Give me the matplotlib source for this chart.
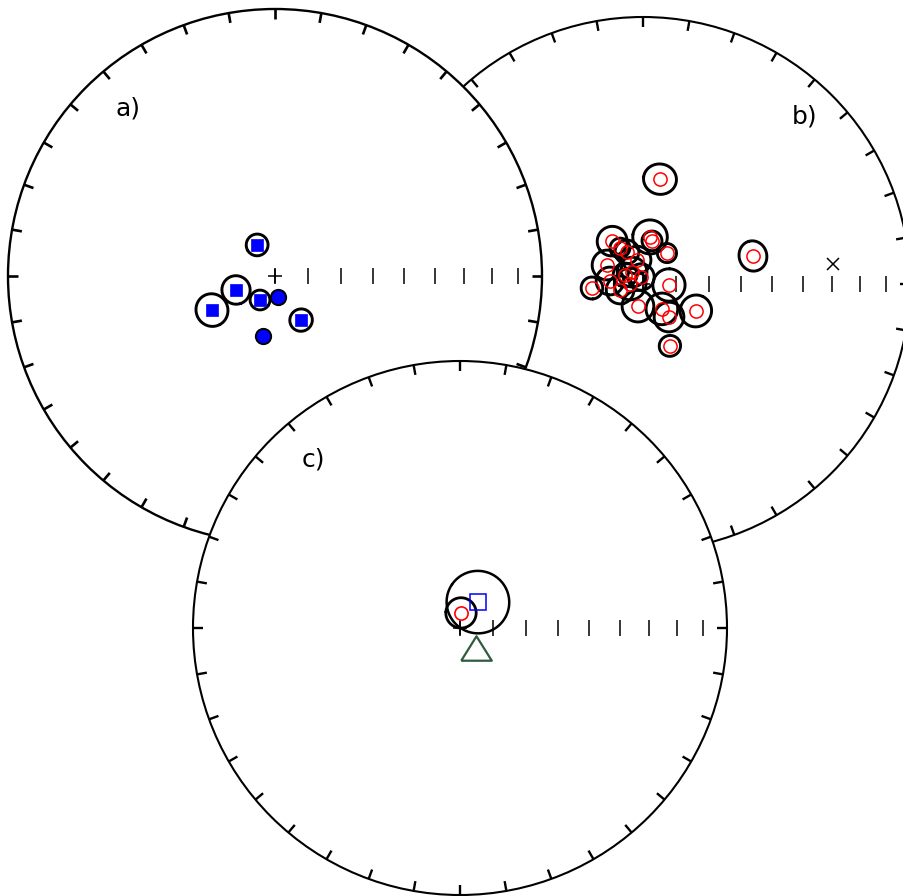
import numpy as np
import matplotlib.pyplot as plt
from matplotlib.patches import Circle

# ---- data (declination, inclination, alpha95 in degrees) ----
# a) site means (squares, with a95) and single directions (dots)
a_sq_dec = [330.1, 250.3, 241.6, 212.0, 149.4]
a_sq_inc = [79.1, 77.4, 68.1, 81.4, 74.4]
a_sq_a95 = [3.3, 4.3, 4.9, 3.0, 3.4]
a_dot_dec = [171.9, 191.3]
a_dot_inc = [83.6, 71.3]

# b) site directions with a95, plus a reference direction
b_dec = [9.2, 75.7, 156.5, 117.0, 265.5, 92.2, 192.8, 142.8, 141.8, 324.2, 8.5, 11.8,
         37.7, 297.8, 333.4, 346.0, 317.5, 344.0, 275.2, 255.4, 270.0, 296.6, 327.4]
b_inc = [57.3, 55.0, 69.4, 71.9, 74.4, 82.1, 83.1, 80.5, 77.2, 73.9, 75.5, 76.6,
         78.1, 77.6, 79.1, 82.5, 85.1, 87.8, 79.9, 82.8, 86.1, 83.9, 77.0]
b_a95 = [4.8, 4.4, 3.2, 4.8, 3.3, 4.9, 4.8, 4.8, 4.5, 4.5, 5.2, 3.0,
         2.9, 4.5, 3.6, 4.2, 4.5, 4.0, 4.2, 4.2, 4.8, 3.6, 3.0]
b_ref_dec, b_ref_inc = [84.0], [29.2]

# c) overall mean, one site, and expected direction
c_mean_dec, c_mean_inc, c_mean_a95 = [34.7], [80.4], [9.5]
c_site_dec, c_site_inc, c_site_a95 = [3.8], [85.4], [4.6]
c_exp_dec, c_exp_inc = [141.3], [82.2]

R = 267.0


def dimap(cx, cy, dec, inc):
    """equal-area (Lambert) projection, north up, image coords (y down)"""
    dec = np.radians(np.asarray(dec, float))
    inc = np.radians(np.abs(np.asarray(inc, float)))
    r = R * np.sqrt(2) * np.sin((np.pi / 2 - inc) / 2)
    return cx + r * np.sin(dec), cy - r * np.cos(dec)


def small_circle(dec, inc, a95, n=120):
    d, i, a = np.radians([dec, inc, a95])
    v = np.array([np.cos(i) * np.cos(d), np.cos(i) * np.sin(d), np.sin(i)])
    p = np.cross(v, [0, 0, 1.0])
    if np.linalg.norm(p) < 1e-9:
        p = np.array([1.0, 0, 0])
    p /= np.linalg.norm(p)
    q = np.cross(v, p)
    t = np.linspace(0, 2 * np.pi, n)
    pts = (np.cos(a) * v[:, None] + np.sin(a) * (np.outer(p, np.cos(t)) + np.outer(q, np.sin(t))))
    decs = np.degrees(np.arctan2(pts[1], pts[0]))
    incs = np.degrees(np.arcsin(np.clip(pts[2], -1, 1)))
    return decs, incs


def plot_net(ax, cx, cy, z, lw=1.5):
    ax.add_patch(Circle((cx, cy), R, facecolor='white', edgecolor='black', lw=lw, zorder=z))
    for D in range(0, 360, 10):
        x, y = dimap(cx, cy, [D, D], [0, 4.2])
        ax.plot(x, y, color='black', lw=lw + 0.2, zorder=z + 0.1, solid_capstyle='butt')
    x, y = dimap(cx, cy, [90] * 9, np.arange(10, 100, 10))
    ax.plot(x, y, ls='none', marker='|', ms=12, mew=1.1, color='black', zorder=z + 0.1)
    ax.plot(cx, cy, ls='none', marker='+', ms=10, mew=1.1, color='black', zorder=z + 0.1)


def plot_a95(ax, cx, cy, dec, inc, a95, z, lw=2.0):
    for d, i, a in zip(dec, inc, a95):
        sd, si = small_circle(d, i, a)
        x, y = dimap(cx, cy, sd, si)
        ax.plot(x, y, color='black', lw=lw, zorder=z,
                solid_capstyle='round', solid_joinstyle='round')


fig = plt.figure(figsize=(9.04, 8.96), dpi=100)
ax = fig.add_axes([0, 0, 1, 1])
ax.set_xlim(0, 904)
ax.set_ylim(896, 0)
ax.set_aspect('equal')
ax.axis('off')

nets = {'a': (275, 276, 10), 'b': (643, 284, 1), 'c': (460, 628, 20)}

# ---- b) ----
cx, cy, z = nets['b']
plot_net(ax, cx, cy, z)
plot_a95(ax, cx, cy, b_dec, b_inc, b_a95, z + 0.3, lw=2.1)
x, y = dimap(cx, cy, b_dec, b_inc)
ax.plot(x, y, ls='none', marker='o', ms=9.5, mfc='none', mec='red', mew=1.1, zorder=z + 0.4)
x, y = dimap(cx, cy, b_ref_dec, b_ref_inc)
ax.plot(x, y, ls='none', marker='x', ms=9, mew=1.1, color='black', zorder=z + 0.4)
ax.text(805, 116, 'b)', fontsize=18, ha='center', va='center', zorder=z + 0.5)

# ---- a) ----
cx, cy, z = nets['a']
plot_net(ax, cx, cy, z, lw=1.7)
plot_a95(ax, cx, cy, a_sq_dec, a_sq_inc, a_sq_a95, z + 0.3, lw=2.1)
x, y = dimap(cx, cy, a_sq_dec, a_sq_inc)
ax.plot(x, y, ls='none', marker='s', ms=9.3, mfc='blue', mec='blue', mew=0.5, zorder=z + 0.4)
x, y = dimap(cx, cy, a_dot_dec, a_dot_inc)
ax.plot(x, y, ls='none', marker='o', ms=11, mfc='blue', mec='black', mew=1.4, zorder=z + 0.4)
ax.text(128, 108, 'a)', fontsize=18, ha='center', va='center', zorder=z + 0.5)

# ---- c) ----
cx, cy, z = nets['c']
plot_net(ax, cx, cy, z)
plot_a95(ax, cx, cy, c_mean_dec, c_mean_inc, c_mean_a95, z + 0.3, lw=1.8)
plot_a95(ax, cx, cy, c_site_dec, c_site_inc, c_site_a95, z + 0.3, lw=2.0)
x, y = dimap(cx, cy, c_mean_dec, c_mean_inc)
ax.plot(x, y, ls='none', marker='s', ms=12, mfc='none', mec='blue', mew=1.1, zorder=z + 0.4)
x, y = dimap(cx, cy, c_site_dec, c_site_inc)
ax.plot(x, y, ls='none', marker='o', ms=9.5, mfc='none', mec='red', mew=1.2, zorder=z + 0.4)
x, y = dimap(cx, cy, c_exp_dec, c_exp_inc)
tri = [(-1, -0.8), (1, -0.8), (0, 0.8), (-1, -0.8)]
ax.plot(x, y, ls='none', marker=tri, ms=22, mfc='none', mec='#2f5b3f', mew=1.6, zorder=z + 0.4)
ax.text(313, 460, 'c)', fontsize=18, ha='center', va='center', zorder=z + 0.5)

fig.savefig('out.png', dpi=100)
